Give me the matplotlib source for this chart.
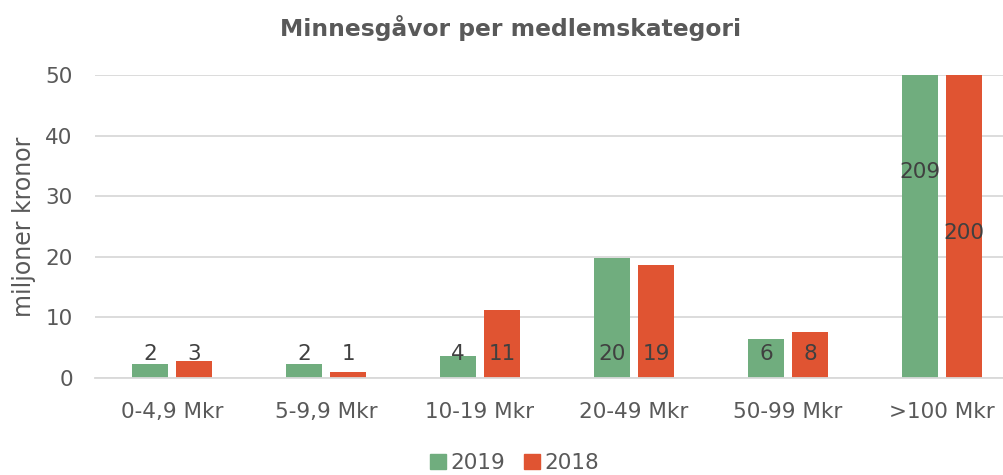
import matplotlib
matplotlib.use("Agg")
import matplotlib.pyplot as plt
from matplotlib.patches import Patch
import numpy as np

categories = ["0-4,9 Mkr", "5-9,9 Mkr", "10-19 Mkr", "20-49 Mkr", "50-99 Mkr", ">100 Mkr"]
series_names = ["2019", "2018"]
values_2019 = [2.3, 2.3, 3.6, 19.8, 6.4, 209]
values_2018 = [2.8, 1.0, 11.2, 18.6, 7.6, 200]
y_ticks = [0, 10, 20, 30, 40, 50]

colors = ["#70AD7E", "#E05432"]
YMAX = 50
LABEL_Y = 3.9            # label height for bars that fit
CLIPPED_LABEL_Y = [34, 24]  # label heights for bars clipped at the top

plt.rcParams['font.family'] = ['DejaVu Sans']

fig = plt.figure(figsize=(10.04, 4.75), dpi=100)
ax = fig.add_axes([95/1004, 97/475, 924/1004, 303/475])

x = np.arange(len(categories))
bw = 0.234
off = 0.143
for i, (vals, col) in enumerate(zip([values_2019, values_2018], colors)):
    xs = x + (-off if i == 0 else off)
    ax.bar(xs, vals, width=bw, color=col, zorder=3)
    for xi, v in zip(xs, vals):
        ly = CLIPPED_LABEL_Y[i] if v > YMAX else LABEL_Y
        ax.text(xi, ly, f"{v:.0f}", ha="center", va="center",
                fontsize=15.5, color="#404040", zorder=4)

ax.set_ylim(0, YMAX)
ax.set_xlim(-0.5, len(categories) - 0.5)
ax.set_yticks(y_ticks)
ax.set_xticks(x)
ax.set_xticklabels(categories)
ax.tick_params(axis="both", length=0, labelsize=15.5, labelcolor="#595959")
ax.tick_params(axis="y", pad=16)
ax.tick_params(axis="x", pad=17)
ax.yaxis.grid(True, color="#D9D9D9", linewidth=1.3, zorder=0)
for s in ["top", "right", "left"]:
    ax.spines[s].set_visible(False)
ax.spines["bottom"].set_color("#D9D9D9")
ax.spines["bottom"].set_linewidth(1.3)
ax.spines["bottom"].set_zorder(3.5)

fig.text(0.509, 1 - 28/475, "Minnesgåvor per medlemskategori", ha="center", va="center",
         fontsize=16.8, fontweight="bold", color="#595959")
fig.text(24/1004, 1 - 227/475, "miljoner kronor", rotation=90,
         ha="center", va="center", fontsize=17, color="#595959")

handles = [Patch(facecolor=c, edgecolor=c) for c in colors]
leg = fig.legend(handles, series_names, loc="center", bbox_to_anchor=(0.5125, 1 - 463/475),
                 ncol=2, frameon=False, fontsize=15.5, handlelength=0.75, handleheight=0.75,
                 handletextpad=0.2, columnspacing=0.85, labelcolor="#595959")

fig.savefig("out.png", dpi=100)
